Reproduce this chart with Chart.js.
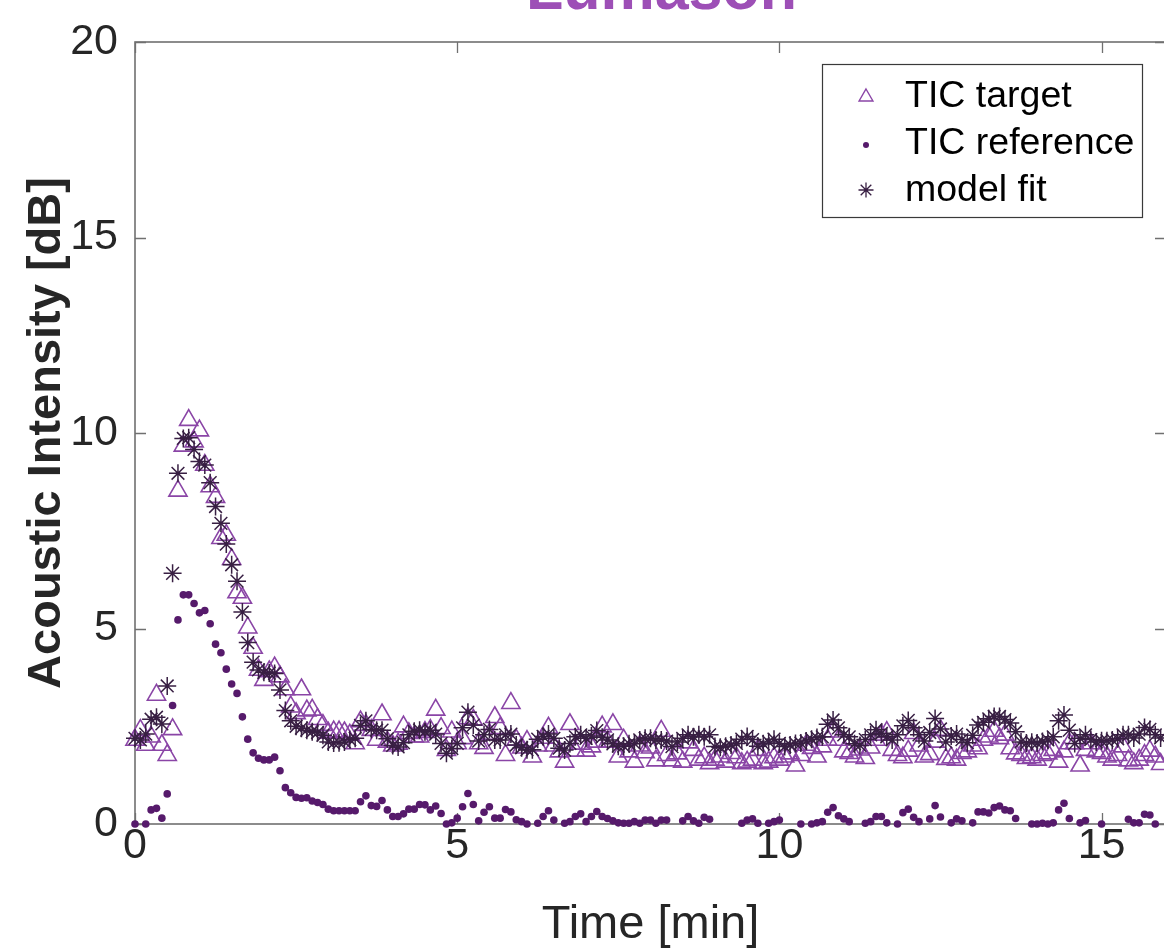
<!DOCTYPE html>
<html>
<head>
<meta charset="utf-8">
<title>Lumason TIC</title>
<script src="https://cdn.jsdelivr.net/npm/chart.js@4.4.1/dist/chart.umd.min.js"></script>
<style>
  html, body { margin: 0; padding: 0; background: #ffffff; overflow: hidden; width: 1164px; height: 949px; }
  canvas { display: block; }
</style>
</head>
<body>
<canvas id="tic" width="1180" height="949"></canvas>
<script>
// Frames are acquired every 5 s; x positions are frame index * 5 s, in minutes.
const FRAME_MIN = 5 / 60;

const chartTitle = 'Lumason';
const xAxisTitle = 'Time [min]';
const yAxisTitle = 'Acoustic Intensity [dB]';
const seriesLabels = ['TIC target', 'TIC reference', 'model fit'];
const xTicks = [0, 5, 10, 15];
const yTicks = [0, 5, 10, 15, 20];

// TIC in the target region [dB], one value per frame
const ticTarget = [
  2.15, 2.40, 2.02, 2.23, 3.30, 2.02, 1.76, 2.42, 8.52, 9.67,
  10.33, 9.78, 10.06, 9.18, 8.63, 8.36, 7.31, 7.39, 6.77, 5.92,
  5.78, 5.02, 4.50, 3.94, 3.68, 3.90, 4.00, 3.77, 3.44, 3.00,
  2.83, 3.44, 2.90, 2.92, 2.68, 2.53, 2.33, 2.36, 2.36, 2.34,
  2.28, 2.06, 2.62, 2.53, 2.40, 2.15, 2.80, 2.10, 2.00, 2.05,
  2.49, 2.32, 2.23, 2.23, 2.35, 2.40, 2.92, 2.45, 1.89, 2.36,
  2.06, 2.19, 2.70, 2.66, 2.06, 1.94, 2.30, 2.73, 2.45, 1.76,
  3.09, 2.15, 1.95, 2.12, 1.72, 2.00, 2.20, 2.46, 2.00, 1.85,
  1.59, 2.55, 1.87, 2.05, 1.87, 1.98, 2.10, 2.49, 2.10, 2.55,
  1.72, 2.15, 1.85, 1.59, 2.00, 1.83, 1.95, 1.62, 2.38, 1.76,
  1.62, 1.80, 1.59, 2.08, 1.89, 1.64, 1.70, 1.55, 1.64, 1.72,
  1.59, 1.81, 1.70, 1.55, 1.59, 1.64, 1.89, 1.55, 1.59, 1.70,
  1.64, 1.72, 1.80, 1.49, 1.76, 2.02, 1.94, 1.72, 1.98, 2.15,
  2.36, 2.15, 1.85, 1.81, 1.72, 1.90, 1.68, 1.95, 2.15, 2.28,
  2.35, 1.89, 1.76, 1.70, 1.87, 2.32, 2.00, 1.72, 1.78, 2.10,
  2.40, 1.66, 1.70, 1.64, 1.81, 1.85, 2.00, 1.93, 2.15, 2.23,
  2.38, 2.19, 2.28, 1.93, 1.80, 1.76, 1.68, 1.70, 1.64, 1.76,
  1.80, 1.89, 1.59, 1.85, 2.06, 2.06, 1.49, 1.89, 2.06, 1.85,
  1.81, 1.72, 1.64, 1.76, 1.98, 1.62, 1.55, 1.64, 1.76, 1.87,
  1.72, 1.53
];

// TIC in the reference region [dB]; null where the frame falls below 0 dB
const ticReference = [
  0.00, null, 0.00, 0.36, 0.40, 0.15, 0.77, 3.03, 5.22, 5.86,
  5.86, 5.64, 5.40, 5.46, 5.12, 4.60, 4.38, 3.96, 3.58, 3.34,
  2.74, 2.17, 1.82, 1.68, 1.64, 1.64, 1.71, 1.36, 0.93, 0.80,
  0.68, 0.66, 0.67, 0.59, 0.55, 0.50, 0.38, 0.34, 0.34, 0.34,
  0.34, 0.34, 0.57, 0.72, 0.47, 0.45, 0.60, 0.36, 0.19, 0.19,
  0.26, 0.38, 0.38, 0.50, 0.49, 0.36, 0.46, 0.27, 0.00, 0.03,
  0.15, 0.44, 0.78, 0.50, 0.08, 0.30, 0.44, 0.15, 0.15, 0.37,
  0.31, 0.11, 0.06, 0.00, null, 0.02, 0.19, 0.34, 0.10, null,
  0.02, 0.06, 0.19, 0.26, 0.06, 0.19, 0.32, 0.19, 0.14, 0.08,
  0.03, 0.02, 0.02, 0.06, 0.02, 0.10, 0.10, 0.02, 0.10, 0.10,
  null, null, 0.08, 0.19, 0.08, 0.02, 0.17, 0.12, null, null,
  null, null, null, 0.02, 0.10, 0.13, 0.02, null, 0.02, 0.06,
  0.10, null, null, null, 0.00, null, 0.00, 0.03, 0.06, 0.30,
  0.42, 0.21, 0.13, 0.06, null, null, 0.02, 0.06, 0.19, 0.19,
  0.03, null, 0.00, 0.29, 0.38, 0.17, 0.06, null, 0.13, 0.47,
  0.18, null, 0.03, 0.13, 0.08, null, 0.03, 0.31, 0.31, 0.28,
  0.42, 0.46, 0.36, 0.34, 0.14, null, null, 0.00, 0.00, 0.02,
  0.00, 0.03, 0.36, 0.53, 0.14, null, 0.03, 0.09, null, null,
  0.00, null, null, null, null, 0.12, 0.03, 0.03, 0.25, 0.23,
  0.00, null
];

// Fitted target curve [dB]
const modelFit = [
  2.19, 2.15, 2.30, 2.68, 2.73, 2.56, 3.53, 6.41, 8.97, 9.86,
  9.88, 9.58, 9.27, 9.18, 8.73, 8.12, 7.69, 7.16, 6.63, 6.21,
  5.42, 4.64, 4.14, 3.94, 3.88, 3.86, 3.85, 3.43, 2.90, 2.64,
  2.50, 2.45, 2.40, 2.36, 2.34, 2.27, 2.10, 2.07, 2.08, 2.10,
  2.16, 2.19, 2.52, 2.64, 2.42, 2.40, 2.40, 2.18, 2.01, 1.97,
  2.08, 2.28, 2.37, 2.40, 2.36, 2.40, 2.30, 2.06, 1.81, 1.93,
  2.06, 2.46, 2.86, 2.53, 2.12, 2.28, 2.42, 2.15, 2.15, 2.28,
  2.30, 2.02, 1.95, 1.90, 1.90, 2.17, 2.24, 2.30, 2.19, 1.94,
  1.89, 2.06, 2.23, 2.28, 2.19, 2.25, 2.39, 2.22, 2.15, 2.05,
  1.99, 1.99, 2.05, 2.06, 2.15, 2.19, 2.19, 2.15, 2.15, 2.12,
  1.98, 2.10, 2.19, 2.28, 2.23, 2.28, 2.23, 2.28, 1.98, 1.96,
  1.99, 2.02, 2.06, 2.17, 2.24, 2.16, 1.99, 2.05, 2.10, 2.17,
  2.06, 1.98, 2.02, 2.06, 2.07, 2.12, 2.17, 2.21, 2.23, 2.55,
  2.66, 2.46, 2.28, 2.23, 2.05, 2.01, 2.16, 2.28, 2.41, 2.32,
  2.23, 2.15, 2.28, 2.51, 2.65, 2.46, 2.28, 2.12, 2.34, 2.70,
  2.43, 2.10, 2.25, 2.30, 2.16, 2.08, 2.27, 2.53, 2.60, 2.69,
  2.75, 2.75, 2.67, 2.58, 2.36, 2.10, 2.07, 2.09, 2.07, 2.11,
  2.15, 2.23, 2.64, 2.79, 2.40, 2.06, 2.19, 2.28, 2.16, 2.10,
  2.13, 2.13, 2.15, 2.18, 2.28, 2.28, 2.20, 2.30, 2.47, 2.42,
  2.28, 2.20
];

const FONT = "'Liberation Sans', Arial, Helvetica, sans-serif";
const TEXT_COLOR = '#262626';
const AXIS_COLOR = '#707070';
const TITLE_COLOR = '#9d4fb6';
const TARGET_COLOR = '#8a45a6';
const REFERENCE_COLOR = '#561a6b';
const FIT_COLOR = '#381f43';
const TICK_LEN = 11;

const toPoints = values => values.map((v, i) => ({ x: i * FRAME_MIN, y: v }));

// Box, inward tick marks, title and the inset legend
const matlabFrame = {
  id: 'matlabFrame',
  beforeDatasetsDraw(chart) {
    const { ctx, chartArea: a, scales: { x, y } } = chart;
    ctx.save();
    ctx.strokeStyle = AXIS_COLOR;
    ctx.lineWidth = 1.6;
    ctx.strokeRect(a.left, a.top, a.right - a.left, a.bottom - a.top);
    ctx.beginPath();
    xTicks.forEach(v => {
      const px = Math.round(x.getPixelForValue(v)) + 0.5;
      ctx.moveTo(px, a.bottom); ctx.lineTo(px, a.bottom - TICK_LEN);
      ctx.moveTo(px, a.top); ctx.lineTo(px, a.top + TICK_LEN);
    });
    yTicks.forEach(v => {
      const py = Math.round(y.getPixelForValue(v)) + 0.5;
      ctx.moveTo(a.left, py); ctx.lineTo(a.left + TICK_LEN, py);
      ctx.moveTo(a.right, py); ctx.lineTo(a.right - TICK_LEN, py);
    });
    ctx.lineWidth = 1.3;
    ctx.stroke();
    ctx.restore();
  },
  afterDraw(chart) {
    const { ctx, chartArea: a } = chart;
    ctx.save();
    // title, mostly above the visible page
    ctx.fillStyle = TITLE_COLOR;
    ctx.font = `bold 61px ${FONT}`;
    ctx.textAlign = 'center';
    ctx.textBaseline = 'alphabetic';
    ctx.fillText(chartTitle, (a.left + a.right) / 2 + 11, 9);

    // legend
    const box = { x: 822, y: 64, w: 320, h: 153 };
    ctx.fillStyle = '#ffffff';
    ctx.fillRect(box.x, box.y, box.w, box.h);
    ctx.strokeStyle = '#3a3a3a';
    ctx.lineWidth = 1.2;
    ctx.strokeRect(box.x + 0.5, box.y + 0.5, box.w, box.h);
    const rows = [96, 143, 190];
    const mx = 866, tx = 905;
    ctx.font = `37.5px ${FONT}`;
    ctx.fillStyle = '#000000';
    ctx.textAlign = 'left';
    ctx.textBaseline = 'middle';
    seriesLabels.forEach((label, k) => ctx.fillText(label, tx, rows[k] + 1));

    // triangle
    ctx.strokeStyle = TARGET_COLOR;
    ctx.lineWidth = 1.4;
    const r = 8, cy0 = rows[0] + 1;
    ctx.beginPath();
    ctx.moveTo(mx, cy0 - r);
    ctx.lineTo(mx + r * 0.866, cy0 + r * 0.5);
    ctx.lineTo(mx - r * 0.866, cy0 + r * 0.5);
    ctx.closePath();
    ctx.stroke();
    // dot
    ctx.fillStyle = REFERENCE_COLOR;
    ctx.beginPath();
    ctx.arc(mx, rows[1] + 2, 3, 0, Math.PI * 2);
    ctx.fill();
    // asterisk
    ctx.strokeStyle = FIT_COLOR;
    ctx.lineWidth = 1.3;
    ctx.beginPath();
    const s = 7.5;
    for (let k = 0; k < 4; k++) {
      const ang = k * Math.PI / 4;
      const dx = Math.cos(ang) * s, dy = Math.sin(ang) * s;
      ctx.moveTo(mx - dx, rows[2] - dy);
      ctx.lineTo(mx + dx, rows[2] + dy);
    }
    ctx.stroke();
    ctx.restore();
  }
};

new Chart(document.getElementById('tic'), {
  type: 'scatter',
  data: {
    datasets: [
      {
        label: seriesLabels[0],
        data: toPoints(ticTarget),
        pointStyle: 'triangle',
        pointRadius: 10.5,
        pointBorderWidth: 1.6,
        borderColor: TARGET_COLOR,
        backgroundColor: 'rgba(0,0,0,0)',
        clip: false,
        order: 2
      },
      {
        label: seriesLabels[1],
        data: toPoints(ticReference),
        pointStyle: 'circle',
        pointRadius: 3.8,
        pointBorderWidth: 0,
        borderColor: REFERENCE_COLOR,
        backgroundColor: REFERENCE_COLOR,
        clip: false,
        order: 1
      },
      {
        label: seriesLabels[2],
        data: toPoints(modelFit),
        pointStyle: 'star',
        pointRadius: 9,
        pointBorderWidth: 1.5,
        borderColor: FIT_COLOR,
        backgroundColor: FIT_COLOR,
        clip: false,
        order: 0
      }
    ]
  },
  options: {
    responsive: false,
    animation: false,
    devicePixelRatio: 1,
    events: [],
    layout: { padding: { left: 0, top: 42, right: 14, bottom: 0 } },
    plugins: {
      legend: { display: false },
      title: { display: false },
      tooltip: { enabled: false }
    },
    scales: {
      x: {
        type: 'linear',
        min: 0,
        max: 16,
        afterBuildTicks: s => { s.ticks = xTicks.map(v => ({ value: v })); },
        afterFit: s => { s.height = 125; },
        grid: { display: false, drawTicks: false },
        border: { display: false },
        ticks: {
          color: TEXT_COLOR,
          font: { family: FONT, size: 43, lineHeight: 1 },
          padding: 1,
          maxRotation: 0
        },
        title: {
          display: true,
          text: xAxisTitle,
          color: TEXT_COLOR,
          font: { family: FONT, size: 47, lineHeight: 1.0 },
          padding: { top: 0, bottom: 0 }
        }
      },
      y: {
        type: 'linear',
        min: 0,
        max: 20,
        afterBuildTicks: s => { s.ticks = yTicks.map(v => ({ value: v })); },
        afterFit: s => { s.width = 135; },
        grid: { display: false, drawTicks: false },
        border: { display: false },
        ticks: {
          color: TEXT_COLOR,
          font: { family: FONT, size: 43, lineHeight: 1 },
          padding: 17
        },
        title: {
          display: true,
          text: yAxisTitle,
          color: TEXT_COLOR,
          font: { family: FONT, size: 47, weight: 'bold', lineHeight: 1.2 },
          padding: { top: 19, bottom: 0 }
        }
      }
    }
  },
  plugins: [matlabFrame]
});
</script>
</body>
</html>
